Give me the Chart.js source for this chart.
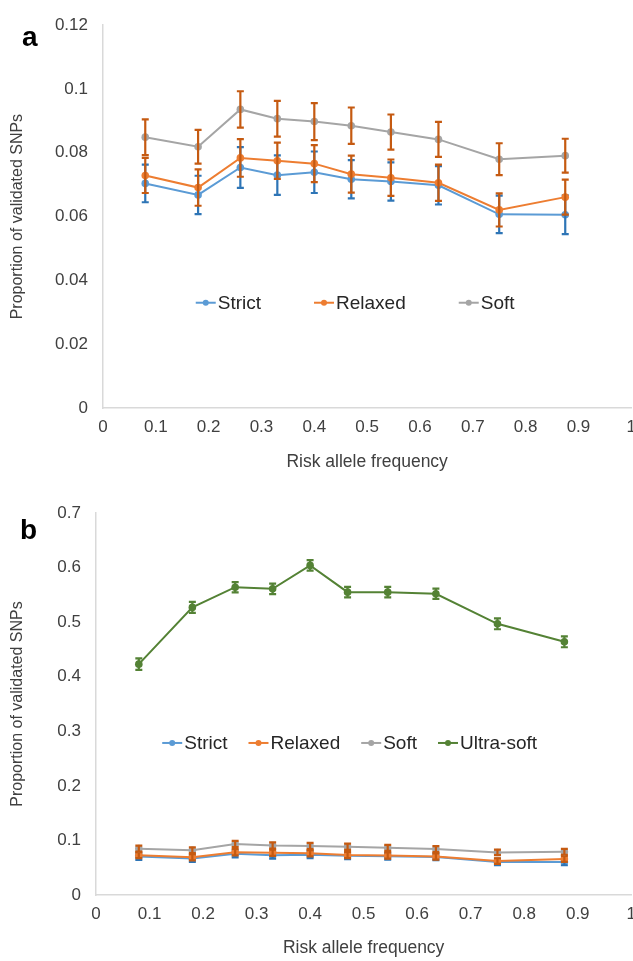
<!DOCTYPE html>
<html>
<head>
<meta charset="utf-8">
<script src="https://cdn.jsdelivr.net/npm/chart.js@4.4.1/dist/chart.umd.min.js"></script>
<style>
  html, body { margin: 0; padding: 0; background: #fff; overflow: hidden; }
  #wrap { position: relative; width: 633px; height: 961px; overflow: hidden; }
  .panel { position: absolute; left: 0; }
  .tag { position: absolute; font: bold 28px "Liberation Sans", Arial, sans-serif; color: #000; line-height: 1; }
</style>
</head>
<body>
<div id="wrap">
  <canvas id="chart-a" class="panel" width="645" height="475" style="top:0"></canvas>
  <canvas id="chart-b" class="panel" width="645" height="483" style="top:478px"></canvas>
  <div class="tag" style="left:22px;top:23px">a</div>
  <div class="tag" style="left:20px;top:516px">b</div>
</div>
<script>
// Risk allele frequency bins (x positions)
const riskFreq = [0.08, 0.18, 0.26, 0.33, 0.40, 0.47, 0.545, 0.635, 0.75, 0.875];

// Proportion of validated SNPs per threshold
const strict    = [0.0704, 0.0668, 0.0754, 0.0730, 0.0739, 0.0717, 0.0710, 0.0698, 0.0607, 0.0606];
const relaxed   = [0.0729, 0.0691, 0.0784, 0.0775, 0.0766, 0.0733, 0.0722, 0.0706, 0.0621, 0.0661];
const soft      = [0.0849, 0.0819, 0.0936, 0.0907, 0.0898, 0.0885, 0.0865, 0.0842, 0.0780, 0.0791];
const ultraSoft = [0.423, 0.527, 0.564, 0.561, 0.604, 0.555, 0.555, 0.552, 0.497, 0.464];

// error bar half-lengths
const strictErr    = [0.0059, 0.0060, 0.0064, 0.0062, 0.0065, 0.0060, 0.0060, 0.0060, 0.0059, 0.0061];
const relaxedErr   = [0.0055, 0.0057, 0.0059, 0.0057, 0.0058, 0.0058, 0.0057, 0.0057, 0.0052, 0.0055];
const softErr      = [0.0056, 0.0053, 0.0057, 0.0056, 0.0058, 0.0057, 0.0055, 0.0055, 0.0050, 0.0053];
const ultraSoftErr = [0.0105, 0.0100, 0.0095, 0.0095, 0.0095, 0.0095, 0.0095, 0.0095, 0.0100, 0.0100];

// tick labels
const xTicks  = [0, 0.1, 0.2, 0.3, 0.4, 0.5, 0.6, 0.7, 0.8, 0.9, 1];
const yTicksA = [0, 0.02, 0.04, 0.06, 0.08, 0.1, 0.12];
const yTicksB = [0, 0.1, 0.2, 0.3, 0.4, 0.5, 0.6, 0.7];

const FONT = '"Liberation Sans", Arial, sans-serif';
Chart.defaults.font.family = FONT;
Chart.defaults.color = '#404040';

const toPoints = vals => vals.map((v, i) => ({ x: riskFreq[i], y: v }));

function series(label, vals, errs, color, errColor, order) {
  return {
    label: label,
    data: toPoints(vals),
    errors: errs,
    errorColor: errColor,
    borderColor: color,
    backgroundColor: color,
    borderWidth: 2,
    pointRadius: 3.8,
    pointBorderWidth: 0,
    tension: 0,
    order: order
  };
}

// draws the error bars through the chart's own scales
const errorBars = {
  id: 'errorBars',
  afterDatasetDraw(chart, args) {
    const ds = chart.data.datasets[args.index];
    if (!ds.errors) return;
    const xs = chart.scales.x, ys = chart.scales.y;
    const ctx = chart.ctx;
    ctx.save();
    ctx.strokeStyle = ds.errorColor;
    ctx.lineWidth = 2.2;
    ds.data.forEach((p, i) => {
      const px = xs.getPixelForValue(p.x);
      const top = ys.getPixelForValue(p.y + ds.errors[i]);
      const bot = ys.getPixelForValue(p.y - ds.errors[i]);
      ctx.beginPath();
      ctx.moveTo(px, top); ctx.lineTo(px, bot);
      ctx.moveTo(px - 3.5, top); ctx.lineTo(px + 3.5, top);
      ctx.moveTo(px - 3.5, bot); ctx.lineTo(px + 3.5, bot);
      ctx.stroke();
    });
    ctx.restore();
  }
};

// legend sitting inside the plot, like the original
const insideLegend = {
  id: 'insideLegend',
  afterDraw(chart, args, opts) {
    const ctx = chart.ctx, a = chart.chartArea;
    ctx.save();
    ctx.font = '19px ' + FONT;
    ctx.textBaseline = 'middle';
    const items = chart.data.datasets.map(d => ({
      text: d.label, color: d.borderColor, w: 22 + ctx.measureText(d.label).width
    }));
    const total = items.reduce((s, it) => s + it.w, 0) + opts.gap * (items.length - 1);
    let x = (a.left + a.right) / 2 + opts.shift - total / 2;
    const y = a.top + opts.yFrac * (a.bottom - a.top);
    items.forEach(it => {
      ctx.strokeStyle = it.color;
      ctx.lineWidth = 2;
      ctx.beginPath(); ctx.moveTo(x, y); ctx.lineTo(x + 20, y); ctx.stroke();
      ctx.fillStyle = it.color;
      ctx.beginPath(); ctx.arc(x + 10, y, 3, 0, Math.PI * 2); ctx.fill();
      ctx.fillStyle = '#262626';
      ctx.fillText(it.text, x + 22, y + 1);
      x += it.w + opts.gap;
    });
    ctx.restore();
  }
};

function makeScales(yMax, yTicks, yWidth, xHeight) {
  return {
    x: {
      type: 'linear', min: 0, max: 1,
      afterBuildTicks: s => { s.ticks = xTicks.map(v => ({ value: v })); },
      afterFit: s => { s.height = xHeight; },
      grid: { display: false, drawTicks: false },
      border: { color: '#d9d9d9', width: 1.5 },
      ticks: { font: { size: 17 }, padding: 9, maxRotation: 0, callback: v => String(+v.toFixed(2)) },
      title: { display: true, text: 'Risk allele frequency', font: { size: 17.5 }, padding: { top: 0, bottom: 2 } }
    },
    y: {
      min: 0, max: yMax,
      afterBuildTicks: s => { s.ticks = yTicks.map(v => ({ value: v })); },
      afterFit: s => { s.width = yWidth; },
      grid: { display: false, drawTicks: false },
      border: { color: '#d9d9d9', width: 1.5 },
      ticks: { font: { size: 17 }, padding: 15, callback: v => String(+v.toFixed(2)) },
      title: { display: true, text: 'Proportion of validated SNPs', font: { size: 16 }, padding: { top: 8, bottom: 0 } }
    }
  };
}

new Chart(document.getElementById('chart-a').getContext('2d'), {
  type: 'line',
  data: {
    datasets: [
      series('Strict', strict, strictErr, '#5b9bd5', '#2e75b6', 3),
      series('Relaxed', relaxed, relaxedErr, '#ed7d31', '#c55a11', 2),
      series('Soft', soft, softErr, '#a5a5a5', '#c55a11', 1)
    ]
  },
  options: {
    responsive: false,
    animation: false,
    layout: { padding: { top: 22, right: 0, bottom: 0, left: 0 } },
    plugins: {
      legend: { display: false },
      tooltip: { enabled: false },
      insideLegend: { yFrac: 0.725, gap: 53, shift: -12 }
    },
    scales: makeScales(0.12, yTicksA, 103, 67)
  },
  plugins: [errorBars, insideLegend]
});

new Chart(document.getElementById('chart-b').getContext('2d'), {
  type: 'line',
  data: {
    datasets: [
      series('Strict', strict, strictErr, '#5b9bd5', '#2e75b6', 4),
      series('Relaxed', relaxed, relaxedErr, '#ed7d31', '#c55a11', 3),
      series('Soft', soft, softErr, '#a5a5a5', '#c55a11', 2),
      series('Ultra-soft', ultraSoft, ultraSoftErr, '#548235', '#548235', 1)
    ]
  },
  options: {
    responsive: false,
    animation: false,
    layout: { padding: { top: 35, right: 0, bottom: 0, left: 0 } },
    plugins: {
      legend: { display: false },
      tooltip: { enabled: false },
      insideLegend: { yFrac: 0.602, gap: 21, shift: -14 }
    },
    scales: makeScales(0.7, yTicksB, 96, 66)
  },
  plugins: [errorBars, insideLegend]
});
</script>
</body>
</html>
